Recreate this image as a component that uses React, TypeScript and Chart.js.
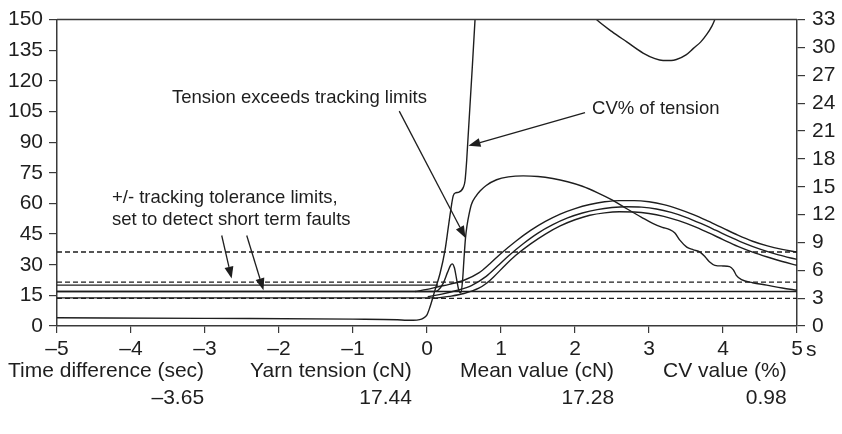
import React, { useEffect, useRef } from "react";
import { Chart, registerables } from "chart.js";

Chart.register(...registerables);

type Pt = [number, number];

// ---------- data (time in s, tension in cN on left axis, CV% on right axis) ----------
const faultLimitLevels = [36.2, 21.5, 13.5];
const steadyTensionLevel = 16.9;
const upperToleranceStart: Pt[] = [[-5, 20.0], [0.15, 20.0]];
const lowerToleranceStart: Pt[] = [[-5, 13.75], [0.11, 13.75]];

const yarnTension: Pt[] = [
  [-5, 16.9], [0.1, 16.9], [0.15, 17.5], [0.22, 21], [0.28, 26.5], [0.32, 29.8], [0.34, 30.4],
  [0.37, 28.5], [0.4, 23], [0.43, 17.5], [0.455, 16.2], [0.48, 22], [0.5, 33], [0.52, 43],
  [0.54, 49], [0.57, 55], [0.6, 59.5], [0.66, 63.5], [0.72, 66.2], [0.8, 68.8], [0.94, 71.6],
  [1.1, 73], [1.3, 73.5], [1.5, 73.2], [1.7, 72.2], [1.9, 70.6], [2.1, 68.4], [2.3, 65.3],
  [2.5, 61.7], [2.7, 57.4], [2.9, 53.2], [3.05, 50.2], [3.18, 48.3], [3.28, 47.2], [3.35, 45.5],
  [3.42, 41.9], [3.51, 38.6], [3.6, 37.3], [3.69, 36.2], [3.76, 33.8], [3.82, 31.3], [3.89, 29.7],
  [4.0, 29.4], [4.09, 29.1], [4.14, 27.5], [4.18, 24.8], [4.25, 22.7], [4.4, 21.2], [4.59, 20.0],
  [4.8, 18.6], [5, 17.5],
];

const trackUpper: Pt[] = [
  [-0.16, 16.9], [0.0, 17.9], [0.15, 19.2], [0.3, 20.4], [0.5, 22.4], [0.7, 26.0], [0.85, 30.5],
  [1.0, 35.5], [1.2, 41.5], [1.4, 46.8], [1.6, 51.2], [1.8, 54.8], [2.0, 57.5], [2.2, 59.5],
  [2.4, 60.8], [2.6, 61.4], [2.8, 61.4], [3.0, 60.8], [3.2, 59.4], [3.4, 57.2], [3.6, 54.5],
  [3.8, 51.3], [4.0, 47.9], [4.2, 44.5], [4.4, 41.5], [4.6, 39.2], [4.8, 37.5], [5, 36.2],
];

const trackMean: Pt[] = [
  [0.01, 14.3], [0.2, 15.6], [0.4, 17.4], [0.6, 19.8], [0.8, 24.3], [0.95, 29.2], [1.1, 34.3],
  [1.3, 40.3], [1.5, 45.5], [1.7, 49.6], [1.9, 52.9], [2.1, 55.3], [2.3, 57.0], [2.5, 58.0],
  [2.7, 58.4], [2.9, 58.2], [3.1, 57.3], [3.3, 55.6], [3.5, 53.2], [3.7, 50.2], [3.9, 46.9],
  [4.1, 43.5], [4.3, 40.3], [4.5, 37.6], [4.75, 34.8], [5, 32.6],
];

const trackLower: Pt[] = [
  [0.11, 13.6], [0.3, 14.5], [0.5, 15.9], [0.7, 18.5], [0.8, 20.8], [0.9, 24.0], [1.05, 29.5],
  [1.2, 34.6], [1.4, 40.2], [1.6, 45.0], [1.8, 49.0], [2.0, 52.0], [2.2, 54.2], [2.4, 55.4],
  [2.6, 55.9], [2.8, 55.8], [3.0, 55.1], [3.2, 53.7], [3.4, 51.6], [3.6, 48.9], [3.8, 45.7],
  [4.0, 42.3], [4.2, 39.0], [4.4, 36.2], [4.6, 33.8], [4.8, 31.6], [5, 29.7],
];

const cvOfTension: Pt[] = [
  [-5, 0.89], [-3, 0.82], [-1, 0.74], [-0.4, 0.68], [-0.27, 0.62], [-0.185, 0.62], [-0.1, 0.68],
  [-0.054, 0.82], [0.0, 1.2], [0.041, 2.07], [0.108, 3.86], [0.176, 5.65], [0.243, 8.14],
  [0.288, 10.64], [0.32, 12.43], [0.355, 14.04], [0.39, 14.35], [0.423, 14.39], [0.491, 14.93],
  [0.514, 15.64], [0.536, 17.79], [0.649, 33.0], [0.7, 40], [1.2, 60], [1.8, 40], [2.1, 34.6],
  [2.29, 33], [2.5, 31.7], [2.7, 30.6], [2.92, 29.4], [3.08, 28.8], [3.19, 28.6], [3.3, 28.6],
  [3.37, 28.7], [3.5, 29.2], [3.6, 29.9], [3.7, 30.6], [3.78, 31.4], [3.85, 32.3], [3.89, 33],
  [4.0, 35.5],
];

const summaryLabels = ["Time difference (sec)", "Yarn tension (cN)", "Mean value (cN)", "CV value (%)"];
const summaryValues = ["\u20133.65", "17.44", "17.28", "0.98"];

// annotation texts (anchor in data units: time, left-axis value)
const annotationTexts: { text: string; t: number; v: number }[] = [
  { text: "Tension exceeds tracking limits", t: -3.446, v: 111.5 },
  { text: "+/- tracking tolerance limits,", t: -4.257, v: 62.8 },
  { text: "set to detect short term faults", t: -4.257, v: 52.1 },
  { text: "CV% of tension", t: 2.23, v: 106.2 },
];
// arrows: from [t, v] to tip [t, v]
const annotationArrows: [Pt, Pt][] = [
  [[-0.375, 105.2], [0.52, 43.1]],
  [[2.135, 104.5], [0.56, 88.2]],
  [[-2.774, 44.3], [-2.64, 23.2]],
  [[-2.436, 44.3], [-2.21, 17.5]],
];

// ---------- layout / style ----------
const FONT = '"Liberation Sans", Arial, Helvetica, sans-serif';
const INK = "#1e1e1e";
const FRAME = "#3a3a3a";
const summaryLeft = [8, 250, 460, 663];

const minusDash = (v: number) => (v < 0 ? "\u2013" + Math.abs(v) : String(v));

function lineDs(data: Pt[], extra: any = {}) {
  return {
    data: data.map(([x, y]) => ({ x, y })),
    borderColor: INK,
    borderWidth: 1.4,
    pointRadius: 0,
    fill: false,
    cubicInterpolationMode: "monotone" as const,
    yAxisID: "y",
    ...extra,
  };
}

const overlayPlugin = {
  id: "overlay",
  afterDatasetsDraw(chart: any) {
    const { ctx, chartArea, scales } = chart;
    const xs = scales.x;
    const ys = scales.y;
    ctx.save();
    // top frame line
    ctx.strokeStyle = FRAME;
    ctx.lineWidth = 1.5;
    ctx.beginPath();
    ctx.moveTo(chartArea.left, chartArea.top);
    ctx.lineTo(chartArea.right, chartArea.top);
    ctx.stroke();

    // annotation texts
    ctx.fillStyle = INK;
    ctx.font = `18.5px ${FONT}`;
    ctx.textAlign = "left";
    ctx.textBaseline = "middle";
    annotationTexts.forEach((a) => {
      ctx.fillText(a.text, xs.getPixelForValue(a.t), ys.getPixelForValue(a.v));
    });

    // arrows
    ctx.strokeStyle = INK;
    ctx.lineWidth = 1.3;
    annotationArrows.forEach(([from, to]) => {
      const x0 = xs.getPixelForValue(from[0]);
      const y0 = ys.getPixelForValue(from[1]);
      const x1 = xs.getPixelForValue(to[0]);
      const y1 = ys.getPixelForValue(to[1]);
      const ang = Math.atan2(y1 - y0, x1 - x0);
      const len = 12;
      const hw = 4.5;
      const bx = x1 - len * Math.cos(ang);
      const by = y1 - len * Math.sin(ang);
      ctx.beginPath();
      ctx.moveTo(x0, y0);
      ctx.lineTo(bx, by);
      ctx.stroke();
      ctx.beginPath();
      ctx.moveTo(x1, y1);
      ctx.lineTo(bx + hw * Math.sin(ang), by - hw * Math.cos(ang));
      ctx.lineTo(bx - hw * Math.sin(ang), by + hw * Math.cos(ang));
      ctx.closePath();
      ctx.fillStyle = INK;
      ctx.fill();
    });

    // unit "s" next to the time axis
    ctx.font = `21px ${FONT}`;
    ctx.textBaseline = "alphabetic";
    ctx.fillText("s", chartArea.right + 9, chartArea.bottom + 30);

    // summary table
    ctx.font = `21px ${FONT}`;
    summaryLabels.forEach((label, i) => {
      const left = summaryLeft[i];
      const w = ctx.measureText(label).width;
      ctx.textAlign = "left";
      ctx.fillText(label, left, 377);
      ctx.textAlign = "right";
      ctx.fillText(summaryValues[i], left + w, 404);
    });
    ctx.restore();
  },
};

export default function App() {
  const canvasRef = useRef<HTMLCanvasElement | null>(null);

  useEffect(() => {
    const canvas = canvasRef.current;
    if (!canvas) return;

    const datasets: any[] = [];
    faultLimitLevels.forEach((lvl) => {
      datasets.push(
        lineDs([[-5, lvl], [5, lvl]], { borderDash: [5, 3], borderWidth: 1.4, cubicInterpolationMode: "default", tension: 0 })
      );
    });
    datasets.push(lineDs([[-5, steadyTensionLevel], [5, steadyTensionLevel]], { tension: 0, cubicInterpolationMode: "default" }));
    datasets.push(lineDs(upperToleranceStart, { tension: 0, cubicInterpolationMode: "default" }));
    datasets.push(lineDs(lowerToleranceStart, { tension: 0, cubicInterpolationMode: "default" }));
    datasets.push(lineDs(trackUpper));
    datasets.push(lineDs(trackMean));
    datasets.push(lineDs(trackLower));
    datasets.push(lineDs(yarnTension));
    datasets.push(lineDs(cvOfTension, { yAxisID: "y2" }));

    const tickFont = { family: FONT, size: 21 };
    const chart = new Chart(canvas, {
      type: "line",
      data: { datasets },
      plugins: [overlayPlugin],
      options: {
        animation: false,
        responsive: false,
        devicePixelRatio: 1,
        parsing: false as any,
        normalized: true,
        layout: { padding: { top: 18, left: 0, right: 0, bottom: 0 } },
        plugins: { legend: { display: false }, tooltip: { enabled: false } },
        scales: {
          x: {
            type: "linear",
            min: -5,
            max: 5,
            ticks: { stepSize: 1, autoSkip: false, font: tickFont, color: INK, padding: 4, callback: (v: any) => minusDash(Number(v)), maxRotation: 0 },
            grid: { display: true, drawOnChartArea: false, drawTicks: true, tickLength: 7, color: FRAME, lineWidth: 1.2 },
            border: { display: true, color: FRAME, width: 1.5 },
            afterFit: (s: any) => { s.height = 108; },
          },
          y: {
            type: "linear",
            position: "left",
            min: 0,
            max: 150,
            ticks: { stepSize: 15, autoSkip: false, font: tickFont, color: INK, padding: 6 },
            grid: { display: true, drawOnChartArea: false, drawTicks: true, tickLength: 8, color: FRAME, lineWidth: 1.2 },
            border: { display: true, color: FRAME, width: 1.5 },
            afterFit: (s: any) => { s.width = 57; },
          },
          y2: {
            type: "linear",
            position: "right",
            min: 0,
            max: 33,
            ticks: { stepSize: 3, autoSkip: false, font: tickFont, color: INK, padding: 7 },
            grid: { display: true, drawOnChartArea: false, drawTicks: true, tickLength: 8, color: FRAME, lineWidth: 1.2 },
            border: { display: true, color: FRAME, width: 1.5 },
            afterFit: (s: any) => { s.width = 45; },
          },
        },
      } as any,
    });
    return () => chart.destroy();
  }, []);

  return (
    <div style={{ position: "absolute", left: 0, top: 0, width: 842, height: 434, background: "#fff" }}>
      <canvas ref={canvasRef} width={842} height={434} style={{ width: 842, height: 434, display: "block" }} />
    </div>
  );
}
